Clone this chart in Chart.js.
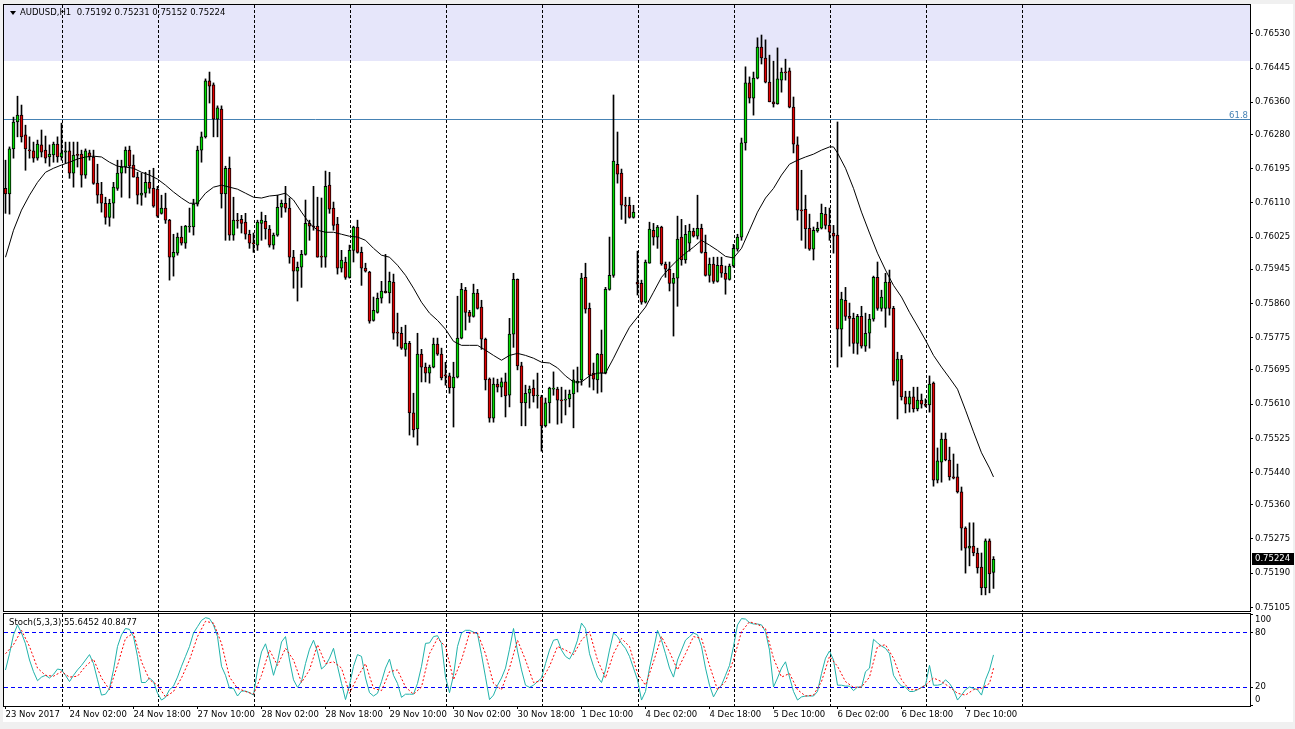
<!DOCTYPE html>
<html>
<head>
<meta charset="utf-8">
<title>AUDUSD H1</title>
<script src="https://cdn.jsdelivr.net/npm/chart.js@4.4.1/dist/chart.umd.min.js"></script>
<style>
html,body{margin:0;padding:0;background:#f0f0f0;}
#wrap{position:relative;width:1295px;height:729px;overflow:hidden;background:#f0f0f0;}
#inner{position:absolute;left:3px;top:4px;width:1290px;height:718px;background:#fff;}
canvas{position:absolute;left:0;}
#main{top:0;}
#stoch{top:612px;}
.txt{position:absolute;font-family:"DejaVu Sans",sans-serif;font-size:8.5px;color:#000;white-space:pre;line-height:10px;}
#hdr{left:20px;top:7px;}
#tri{position:absolute;left:10px;top:11px;width:0;height:0;border-left:3px solid transparent;border-right:3px solid transparent;border-top:4px solid #000;}
#stl{left:9px;top:617px;}
</style>
</head>
<body>
<div id="wrap">
<div id="inner"></div>
<canvas id="main" width="1295" height="612"></canvas>
<canvas id="stoch" width="1295" height="117"></canvas>
<div id="tri"></div>
<div id="hdr" class="txt"></div>
<div id="stl" class="txt"></div>
</div>
<script>
// ---------- DATA ----------
const symbol = "AUDUSD,H1";
const opens = [0.76146,0.76132,0.76244,0.76311,0.76328,0.76279,0.76241,0.76239,0.76221,0.76254,
0.76241,0.76224,0.76229,0.76256,0.76224,0.76236,0.76239,0.76184,0.76229,0.76231,
0.76179,0.76234,0.76224,0.76159,0.76132,0.76109,0.76074,0.76109,0.76146,0.76184,
0.76199,0.76241,0.76204,0.76174,0.76129,0.76134,0.76161,0.76146,0.76144,0.76084,
0.76097,0.76067,0.75975,0.75985,0.76025,0.76010,0.76050,0.76050,0.76107,0.76241,
0.76274,0.76413,0.76403,0.76318,0.76343,0.76132,0.76196,0.76030,0.76067,0.76069,
0.76062,0.76032,0.76010,0.76005,0.76059,0.76064,0.76045,0.76005,0.76030,0.76099,
0.76109,0.76097,0.75975,0.75940,0.75950,0.75982,0.76059,0.76052,0.76052,0.75978,
0.75975,0.76154,0.76097,0.76057,0.75948,0.75963,0.75925,0.75992,0.76050,0.75987,
0.75948,0.75938,0.75818,0.75838,0.75873,0.75891,0.75886,0.75913,0.75789,0.75786,
0.75746,0.75761,0.75588,0.75548,0.75734,0.75702,0.75687,0.75702,0.75759,0.75734,
0.75682,0.75680,0.75650,0.75677,0.75774,0.75893,0.75838,0.75828,0.75886,0.75851,
0.75771,0.75672,0.75575,0.75660,0.75652,0.75665,0.75632,0.75784,0.75920,0.75705,
0.75613,0.75637,0.75650,0.75630,0.75628,0.75556,0.75613,0.75647,0.75647,0.75620,
0.75620,0.75623,0.75635,0.75662,0.75670,0.75925,0.75848,0.75687,0.75670,0.75734,
0.75687,0.75895,0.75930,0.76206,0.76184,0.76104,0.76104,0.76074,0.75913,0.75910,
0.75863,0.75960,0.76042,0.76025,0.76050,0.75958,0.75945,0.75910,0.75923,0.76025,
0.75968,0.76010,0.76040,0.76027,0.76047,0.75987,0.75930,0.75958,0.75915,0.75955,
0.75935,0.75920,0.75953,0.75995,0.76025,0.76259,0.76408,0.76370,0.76420,0.76497,
0.76470,0.76410,0.76361,0.76356,0.76415,0.76435,0.76438,0.76348,0.76254,0.76092,
0.76094,0.76047,0.75995,0.76040,0.76047,0.76082,0.76054,0.76035,0.76030,0.75796,
0.75868,0.75828,0.75823,0.75761,0.75828,0.75754,0.75786,0.75821,0.75925,0.75848,
0.75848,0.75913,0.75848,0.75667,0.75722,0.75628,0.75610,0.75628,0.75598,0.75620,
0.75608,0.75608,0.75662,0.75421,0.75466,0.75523,0.75471,0.75429,0.75429,0.75392,
0.75302,0.75252,0.75257,0.75240,0.75205,0.75153,0.75270,0.75192];
const highs = [0.76216,0.76249,0.76323,0.76375,0.76353,0.76303,0.76274,0.76261,0.76266,0.76291,
0.76276,0.76254,0.76261,0.76274,0.76308,0.76261,0.76261,0.76261,0.76261,0.76241,
0.76244,0.76241,0.76241,0.76206,0.76161,0.76124,0.76119,0.76161,0.76216,0.76216,
0.76249,0.76251,0.76229,0.76186,0.76184,0.76186,0.76191,0.76196,0.76151,0.76129,
0.76134,0.76069,0.76032,0.76035,0.76052,0.76054,0.76097,0.76119,0.76251,0.76286,
0.76418,0.76435,0.76408,0.76351,0.76351,0.76201,0.76224,0.76124,0.76084,0.76079,
0.76084,0.76042,0.76035,0.76067,0.76087,0.76079,0.76054,0.76035,0.76129,0.76117,
0.76151,0.76122,0.75992,0.75963,0.75992,0.76117,0.76067,0.76151,0.76124,0.76122,
0.76189,0.76186,0.76112,0.76074,0.75992,0.75975,0.76005,0.76052,0.76067,0.76000,
0.75960,0.75940,0.75876,0.75886,0.75915,0.75982,0.75938,0.75933,0.75836,0.75801,
0.75806,0.75766,0.75637,0.75786,0.75746,0.75712,0.75707,0.75774,0.75774,0.75749,
0.75714,0.75687,0.75714,0.75878,0.75910,0.75900,0.75843,0.75908,0.75895,0.75868,
0.75774,0.75675,0.75675,0.75672,0.75675,0.75687,0.75823,0.75935,0.75921,0.75714,
0.75657,0.75655,0.75670,0.75687,0.75632,0.75625,0.75652,0.75690,0.75652,0.75652,
0.75645,0.75645,0.75695,0.75702,0.75935,0.75960,0.75861,0.75712,0.75736,0.75794,
0.75900,0.76025,0.76378,0.76286,0.76194,0.76124,0.76124,0.76104,0.75990,0.75918,
0.75968,0.76062,0.76059,0.76054,0.76052,0.75963,0.75963,0.75935,0.76077,0.76069,
0.76054,0.76057,0.76047,0.76129,0.76057,0.76030,0.75973,0.75975,0.75975,0.75975,
0.75953,0.75958,0.76007,0.76032,0.76271,0.76448,0.76423,0.76435,0.76520,0.76527,
0.76515,0.76477,0.76462,0.76495,0.76445,0.76467,0.76445,0.76373,0.76274,0.76191,
0.76129,0.76082,0.76050,0.76062,0.76107,0.76099,0.76097,0.76054,0.76311,0.75888,
0.75900,0.75861,0.75836,0.75833,0.75853,0.75836,0.75833,0.75928,0.75963,0.75893,
0.75935,0.75943,0.75853,0.75739,0.75731,0.75642,0.75642,0.75652,0.75652,0.75635,
0.75623,0.75680,0.75665,0.75501,0.75538,0.75538,0.75503,0.75486,0.75461,0.75404,
0.75305,0.75315,0.75315,0.75252,0.75240,0.75275,0.75275,0.75231];
const lows = [0.76084,0.76082,0.76221,0.76274,0.76261,0.76191,0.76221,0.76211,0.76216,0.76224,
0.76209,0.76201,0.76211,0.76211,0.76216,0.76209,0.76171,0.76149,0.76199,0.76149,
0.76171,0.76216,0.76156,0.76109,0.76087,0.76057,0.76052,0.76072,0.76141,0.76124,
0.76184,0.76122,0.76174,0.76107,0.76104,0.76124,0.76134,0.76099,0.76074,0.76082,
0.76059,0.75918,0.75928,0.75980,0.76005,0.75997,0.76037,0.76030,0.76102,0.76211,
0.76271,0.76358,0.76274,0.76274,0.76097,0.76017,0.76017,0.76017,0.76047,0.76035,
0.76020,0.75997,0.75987,0.75992,0.76017,0.76020,0.76000,0.75995,0.76027,0.76074,
0.76087,0.75960,0.75898,0.75866,0.75900,0.75980,0.76017,0.76042,0.75975,0.75950,
0.75950,0.76084,0.76042,0.75933,0.75938,0.75920,0.75923,0.75963,0.75985,0.75905,
0.75938,0.75811,0.75816,0.75836,0.75861,0.75886,0.75861,0.75771,0.75754,0.75746,
0.75729,0.75533,0.75528,0.75508,0.75665,0.75665,0.75662,0.75700,0.75731,0.75670,
0.75657,0.75637,0.75553,0.75675,0.75772,0.75794,0.75813,0.75826,0.75846,0.75746,
0.75645,0.75565,0.75565,0.75640,0.75628,0.75578,0.75603,0.75751,0.75695,0.75556,
0.75556,0.75600,0.75615,0.75600,0.75493,0.75553,0.75563,0.75632,0.75560,0.75563,
0.75583,0.75603,0.75551,0.75640,0.75657,0.75836,0.75652,0.75645,0.75637,0.75640,
0.75685,0.75893,0.75925,0.76159,0.76069,0.76059,0.76072,0.76072,0.75881,0.75858,
0.75861,0.75960,0.76005,0.75997,0.75955,0.75925,0.75891,0.75779,0.75853,0.75955,
0.75960,0.75990,0.76025,0.76020,0.75985,0.75928,0.75913,0.75910,0.75913,0.75925,
0.75883,0.75918,0.75950,0.75990,0.76017,0.76241,0.76358,0.76328,0.76418,0.76455,
0.76408,0.76361,0.76348,0.76355,0.76385,0.76415,0.76346,0.76234,0.76067,0.76017,
0.75997,0.75992,0.75968,0.76037,0.76045,0.76045,0.76017,0.75985,0.75702,0.75727,
0.75818,0.75754,0.75736,0.75734,0.75749,0.75741,0.75749,0.75816,0.75843,0.75841,
0.75801,0.75831,0.75657,0.75573,0.75620,0.75588,0.75590,0.75590,0.75593,0.75600,
0.75603,0.75590,0.75406,0.75414,0.75416,0.75469,0.75421,0.75424,0.75389,0.75247,
0.75190,0.75208,0.75233,0.75190,0.75136,0.75136,0.75141,0.75152];
const closes = [0.76132,0.76244,0.76311,0.76328,0.76274,0.76244,0.76239,0.76221,0.76256,0.76236,
0.76221,0.76231,0.76256,0.76224,0.76234,0.76239,0.76184,0.76229,0.76228,0.76179,
0.76239,0.76224,0.76158,0.76129,0.76109,0.76074,0.76109,0.76149,0.76184,0.76199,
0.76241,0.76201,0.76174,0.76129,0.76134,0.76161,0.76146,0.76102,0.76077,0.76097,
0.76067,0.75975,0.75987,0.76025,0.76010,0.76052,0.76052,0.76107,0.76241,0.76274,
0.76413,0.76400,0.76318,0.76346,0.76132,0.76196,0.76030,0.76067,0.76065,0.76059,
0.76032,0.76010,0.76008,0.76062,0.76067,0.76045,0.76005,0.76030,0.76099,0.76109,
0.76097,0.75975,0.75940,0.75950,0.75982,0.76059,0.76052,0.76050,0.75975,0.75975,
0.76151,0.76094,0.76054,0.75948,0.75968,0.75925,0.75992,0.76050,0.75987,0.75948,
0.75940,0.75816,0.75843,0.75873,0.75891,0.75886,0.75915,0.75786,0.75786,0.75749,
0.75761,0.75588,0.75546,0.75734,0.75702,0.75687,0.75702,0.75759,0.75734,0.75675,
0.75680,0.75650,0.75677,0.75774,0.75895,0.75838,0.75828,0.75886,0.75848,0.75771,
0.75670,0.75575,0.75660,0.75652,0.75665,0.75630,0.75784,0.75920,0.75705,0.75613,
0.75637,0.75647,0.75630,0.75632,0.75556,0.75613,0.75650,0.75648,0.75620,0.75618,
0.75621,0.75635,0.75670,0.75667,0.75923,0.75846,0.75682,0.75672,0.75734,0.75687,
0.75895,0.75930,0.76214,0.76181,0.76104,0.76102,0.76074,0.76087,0.75908,0.75863,
0.75963,0.76045,0.76025,0.76050,0.75958,0.75945,0.75910,0.75923,0.76020,0.75968,
0.76032,0.76040,0.76027,0.76047,0.75987,0.75930,0.75958,0.75915,0.75955,0.75935,
0.75920,0.75953,0.75997,0.76025,0.76259,0.76408,0.76370,0.76420,0.76497,0.76470,
0.76410,0.76361,0.76356,0.76418,0.76435,0.76433,0.76348,0.76256,0.76092,0.76090,
0.76045,0.75995,0.76042,0.76047,0.76084,0.76054,0.76037,0.76027,0.75796,0.75871,
0.75828,0.75823,0.75761,0.75828,0.75754,0.75786,0.75821,0.75925,0.75848,0.75876,
0.75913,0.75848,0.75667,0.75722,0.75628,0.75610,0.75628,0.75598,0.75620,0.75610,
0.75607,0.75660,0.75421,0.75469,0.75523,0.75471,0.75429,0.75426,0.75392,0.75302,
0.75252,0.75257,0.75240,0.75203,0.75153,0.75270,0.75188,0.75224];

// moving average, read at these bar numbers
const maIdx = [0,2,4,6,8,10,12,14,16,18,20,22,24,26,28,30,32,34,36,38,40,42,44,46,48,50,52,54,56,58,
60,62,64,66,68,70,72,74,76,78,80,82,84,86,88,90,92,94,96,98,100,102,104,106,108,110,112,114,116,118,
120,122,124,126,128,130,132,134,136,138,140,142,144,146,148,150,152,154,156,158,160,162,164,166,168,170,
172,174,176,178,180,182,184,186,188,190,192,194,196,198,200,202,204,206,207,208,210,212,214,216,218,220,
222,224,226,228,230,232,234,236,238,240,242,244,246,247];
const maVal = [0.75975,0.76042,0.76092,0.76129,0.76161,0.76186,0.76196,0.76204,0.76211,0.76219,
0.76224,0.76226,0.76224,0.76211,0.76201,0.76199,0.76196,0.76186,0.76179,0.76169,
0.76154,0.76137,0.76122,0.76109,0.76109,0.76134,0.76149,0.76154,0.76149,0.76144,
0.76134,0.76124,0.76122,0.76127,0.76129,0.76134,0.76117,0.76087,0.76059,0.76042,
0.76037,0.76037,0.76032,0.76027,0.76025,0.76017,0.75997,0.75980,0.75975,0.75955,
0.75930,0.75898,0.75863,0.75836,0.75818,0.75796,0.75766,0.75756,0.75756,0.75756,
0.75744,0.75731,0.75719,0.75731,0.75736,0.75731,0.75724,0.75714,0.75712,0.75700,
0.75680,0.75665,0.75665,0.75680,0.75687,0.75687,0.75724,0.75764,0.75801,0.75826,
0.75851,0.75888,0.75925,0.75948,0.75968,0.75985,0.76000,0.76017,0.76005,0.75992,
0.75977,0.75973,0.75997,0.76042,0.76087,0.76122,0.76146,0.76179,0.76206,0.76216,
0.76224,0.76231,0.76241,0.76249,0.76249,0.76234,
0.76196,0.76146,0.76087,0.76035,0.75985,0.75943,0.75905,0.75876,0.75838,0.75804,
0.75769,0.75731,0.75702,0.75675,0.75647,0.75595,0.75541,0.75489,0.75451,0.75429];

// stochastic %K for every bar
const stochK = [38.9,57,78,89,80,68,50,37,27,31,
33,30,34,40,39,33,26,33,39,44,
50,56,46,28,11,12,18.5,39,65,78,
85,84,76,54,25,25,30,26,13,5.5,
8.5,17,21,31,43,54,65,80,87,94,
97,96,89,76,43,33,18.5,18.5,10,15.5,
15.5,13.7,11,39,59,68,52,33,48,70,
76,50,28,19.6,26,46,62,72,59,40,
44,52,63,43,24,6,22,43,56,54,
30,13.7,10,13,26,41,51,33,24,8.5,
12,12,12,24,43,68.5,69,76,77,68.5,
31,13.7,33,65,80,83,83,81,79,56,
31,6,11,22,30,41,62,85,60,39,
22,19.6,22,26,30,46,61,72,73,61,
54,51,59,72,91,85,57,43,31,25,
39,61,80,76,68.5,63,54,41,28,5.5,
15,41,61,83,72,57,41,31,50,61,
72,76,80,78,65,41,22,9,17,22,
33,44,65,89,96,95.5,91.5,90,90,89,
81.5,61,20,30,41,48,31,15,5.5,9,
10,10,10,15,35,52,60,50,22,22,
21,21,16,20,19.6,37,41,73,69,65.5,
63,57,33,26,21,20,15,15,17,19.6,
22,44,22,22,23,28,24,17,5.5,11,
17,20,18.5,17,11,28,39,55.6452];
// stochastic %D, read at these bar numbers
const stochDIdx = [0,2,4,6,8,10,12,14,16,18,20,22,24,26,28,30,32,34,36,38,40,42,44,46,48,50,52,54,56,58,
60,62,64,66,68,70,72,74,76,78,80,82,84,86,88,90,92,94,96,98,100,102,104,106,108,110,112,114,116,118,
120,122,124,126,128,130,132,134,136,138,140,142,144,146,148,150,152,154,156,158,160,162,164,166,168,170,
172,174,176,178,180,182,184,186,188,190,192,194,196,198,200,202,204,206,208,210,212,214,216,218,220,222,
224,226,228,230,232,234,236,238,240,242,244,246,247];
const stochD = [57,67,83,65,41,33,32,37,31,32,
43,51,30,17,44,74,80,48,28,22,
9,15,30,50,76,93,91,68.5,31,18.5,
15,12,33,61,44,63,50,25,39,67,
46,48,41,13,31,46,18.5,16,37,39,
20,12,20,57,74,65,28,50,80,80,
57,24,17,41,72,50,25,27,43,65,
61,56,72,81.5,50,30,57,74,65,35,
22,48,76,59,39,57,76,74,44,17,
26,50,81.5,92.5,89.6,85,52,31,35,17,
10,11,26,54,43,26,19.6,20,31,65,
67,52,28,17,17,22,30,26,20,13,
11,17,18.5,24,40.8477];

const priceTicks = [0.76530,0.76445,0.76360,0.76280,0.76195,0.76110,0.76025,0.75945,0.75860,
0.75775,0.75695,0.75610,0.75525,0.75440,0.75360,0.75275,0.75190,0.75105];
const stochTicks = [100,80,20,0];
const stochLevels = [80,20];
const daySeparators = [14,38,62,86,110,134,158,182,206,230,254];
const dateLabelIdx = [0,16,32,48,64,80,96,112,128,144,160,176,192,208,224,240];
const dateLabels = ["23 Nov 2017","24 Nov 02:00","24 Nov 18:00","27 Nov 10:00","28 Nov 02:00",
"28 Nov 18:00","29 Nov 10:00","30 Nov 02:00","30 Nov 18:00","1 Dec 10:00","4 Dec 02:00",
"4 Dec 18:00","5 Dec 10:00","6 Dec 02:00","6 Dec 18:00","7 Dec 10:00"];
const resistanceZoneLow = 0.76462;
const fibLevel = 0.76318;
const fibLabel = "61.8";
const stochName = "Stoch(5,3,3)";

// ---------- STYLE / LAYOUT ----------
const GREEN = '#00dc00', RED = '#e00000';
const FONT = {family: '"DejaVu Sans", sans-serif', size: 8.5};
const X_MIN = -0.375, X_MAX = 311.125;
const Y_MIN = 0.750959, Y_MAX = 0.766016;
const last = opens.length - 1;

document.getElementById('hdr').textContent =
  symbol + '  ' + opens[last].toFixed(5) + ' ' + highs[last].toFixed(5) + ' ' + lows[last].toFixed(5) + ' ' + closes[last].toFixed(5);
document.getElementById('stl').textContent =
  stochName + ' ' + stochK[last].toFixed(4) + ' ' + stochD[stochD.length - 1].toFixed(4);

const framePlugin = {
  id: 'frame',
  afterDraw(chart) {
    const {ctx, chartArea: a} = chart;
    ctx.save();
    ctx.strokeStyle = '#000';
    ctx.lineWidth = 1;
    ctx.strokeRect(a.left - 0.5, a.top - 0.5, a.right - a.left + 1, a.bottom - a.top + 1);
    ctx.restore();
  }
};
const zonePlugin = {
  id: 'zone',
  beforeDraw(chart) {
    const {ctx, chartArea: a, scales: {y}} = chart;
    const yb = Math.round(y.getPixelForValue(resistanceZoneLow));
    ctx.save();
    ctx.fillStyle = '#e6e6fa';
    ctx.fillRect(a.left, a.top, a.right - a.left, yb - a.top);
    ctx.restore();
  }
};
const fibPlugin = {
  id: 'fib',
  beforeDatasetsDraw(chart) {
    const {ctx, chartArea: a, scales: {y}} = chart;
    const py = Math.round(y.getPixelForValue(fibLevel)) + 0.5;
    ctx.save();
    ctx.strokeStyle = '#4682b4';
    ctx.lineWidth = 1;
    ctx.beginPath(); ctx.moveTo(a.left, py); ctx.lineTo(a.right, py); ctx.stroke();
    ctx.fillStyle = '#4682b4';
    ctx.font = '8.5px "DejaVu Sans", sans-serif';
    ctx.textAlign = 'right';
    ctx.textBaseline = 'alphabetic';
    ctx.fillText(fibLabel, a.right - 2, py - 2);
    ctx.restore();
  }
};
const priceBoxPlugin = {
  id: 'pricebox',
  afterDraw(chart) {
    const {ctx, chartArea: a, scales: {y}} = chart;
    const py = Math.round(y.getPixelForValue(closes[last]));
    ctx.save();
    ctx.fillStyle = '#000';
    ctx.fillRect(a.right + 2, py - 6, 42, 12);
    ctx.fillStyle = '#fff';
    ctx.font = '8.5px "DejaVu Sans", sans-serif';
    ctx.textAlign = 'left';
    ctx.textBaseline = 'middle';
    ctx.fillText(closes[last].toFixed(5), a.right + 5, py);
    ctx.restore();
  }
};

const bodyData = opens.map((o, i) => ({x: i, y: [o, closes[i]]}));
const bodyColors = opens.map((o, i) => closes[i] >= o ? GREEN : RED);
const wickData = lows.map((l, i) => ({x: i, y: [l, highs[i]]}));
const maData = maIdx.map((x, k) => ({x, y: maVal[k]}));

new Chart(document.getElementById('main'), {
  type: 'bar',
  data: {
    datasets: [
      {type: 'line', label: 'MA', data: maData, borderColor: '#000', borderWidth: 1, pointRadius: 0, tension: 0, order: 0},
      {label: 'body', data: bodyData, backgroundColor: bodyColors, borderColor: '#000', borderWidth: 1,
       borderSkipped: false, barThickness: 3, minBarLength: 1, grouped: false, order: 1},
      {label: 'wick', data: wickData, backgroundColor: '#000', borderWidth: 0, barThickness: 1, grouped: false, order: 2}
    ]
  },
  options: {
    responsive: false, maintainAspectRatio: false, animation: false, devicePixelRatio: 1,
    layout: {padding: {left: 4, top: 5, right: 0, bottom: 1}},
    plugins: {legend: {display: false}, tooltip: {enabled: false}},
    scales: {
      x: {
        type: 'linear', min: X_MIN, max: X_MAX, bounds: 'data', offset: false,
        afterBuildTicks: s => { s.ticks = daySeparators.map(v => ({value: v + 0.25})); },
        ticks: {display: false},
        grid: {color: '#000', lineWidth: 1, drawTicks: false, offset: false},
        border: {display: false, dash: [3, 2]},
        afterFit: s => { s.height = 0; s.paddingLeft = 0; s.paddingRight = 0; }
      },
      y: {
        type: 'linear', position: 'right', min: Y_MIN, max: Y_MAX, bounds: 'data',
        afterBuildTicks: s => { s.ticks = priceTicks.map(v => ({value: v})); },
        ticks: {color: '#000', font: FONT, padding: 2, autoSkip: false, callback: v => Number(v).toFixed(5)},
        grid: {drawOnChartArea: false, tickLength: 3, tickColor: '#000'},
        border: {display: false},
        afterFit: s => { s.width = 45; s.paddingTop = 0; s.paddingBottom = 0; }
      }
    }
  },
  plugins: [zonePlugin, fibPlugin, framePlugin, priceBoxPlugin]
});

new Chart(document.getElementById('stoch'), {
  type: 'line',
  data: {
    datasets: [
      {label: '%D', data: stochDIdx.map((x, k) => ({x, y: stochD[k]})), borderColor: '#ff0000', borderWidth: 1,
       borderDash: [2, 2], pointRadius: 0, tension: 0, order: 0},
      {label: '%K', data: stochK.map((y, i) => ({x: i, y})), borderColor: '#20b2aa', borderWidth: 1,
       pointRadius: 0, tension: 0, order: 1}
    ]
  },
  options: {
    responsive: false, maintainAspectRatio: false, animation: false, devicePixelRatio: 1,
    layout: {padding: {left: 4, top: 2, right: 0, bottom: 0}},
    plugins: {legend: {display: false}, tooltip: {enabled: false}},
    scales: {
      xg: {
        type: 'linear', position: 'top', min: X_MIN, max: X_MAX, bounds: 'data', offset: false,
        afterBuildTicks: s => { s.ticks = daySeparators.map(v => ({value: v + 0.25})); },
        ticks: {display: false},
        grid: {color: '#000', lineWidth: 1, drawTicks: false},
        border: {display: false, dash: [3, 2]},
        afterFit: s => { s.height = 0; s.paddingLeft = 0; s.paddingRight = 0; }
      },
      x: {
        type: 'linear', position: 'bottom', min: X_MIN, max: X_MAX, bounds: 'data', offset: false,
        afterBuildTicks: s => { s.ticks = dateLabelIdx.map(v => ({value: v})); },
        ticks: {color: '#000', font: FONT, align: 'start', autoSkip: false, maxRotation: 0, minRotation: 0, padding: 1,
                callback: (v, i) => dateLabels[i]},
        grid: {drawOnChartArea: false, tickLength: 3, tickColor: '#000'},
        border: {display: false},
        afterFit: s => { s.height = 23; s.paddingLeft = 0; s.paddingRight = 0; }
      },
      y: {
        type: 'linear', position: 'right', min: -1.11, max: 101.11, bounds: 'data',
        afterBuildTicks: s => { s.ticks = stochTicks.map(v => ({value: v})); },
        ticks: {color: '#000', font: FONT, padding: 2, autoSkip: false,
                callback: v => v === 100 ? ['', '100'] : (v === 0 ? ['0', ''] : String(v))},
        grid: {
          color: c => (c.tick && stochLevels.includes(c.tick.value)) ? '#0000ff' : 'rgba(0,0,0,0)',
          drawOnChartArea: true, tickLength: 3, tickColor: '#000'
        },
        border: {display: false, dash: [4, 3]},
        afterFit: s => { s.width = 45; s.paddingTop = 0; s.paddingBottom = 0; }
      }
    }
  },
  plugins: [framePlugin]
});
</script>
</body>
</html>
